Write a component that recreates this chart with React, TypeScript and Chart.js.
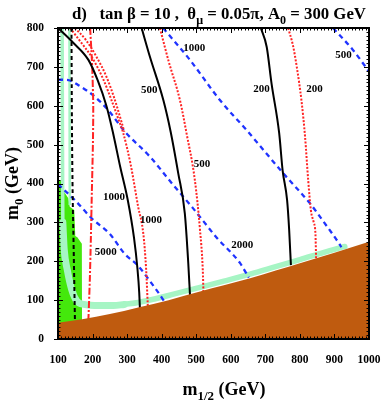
import React, { useEffect, useRef } from 'react';
import { Chart, registerables } from 'chart.js';

Chart.register(...registerables);

type P = [number, number];

// axis ticks
const xTickValues = [100, 200, 300, 400, 500, 600, 700, 800, 900, 1000];
const yTickValues = [0, 100, 200, 300, 400, 500, 600, 700, 800];

// excluded (stau LSP) region boundary
const stauBoundary: P[] = [[100, 42], [170, 51], [250, 64], [332, 81], [420, 100], [511, 122], [580, 138], [656, 156], [730, 176], [800, 195], [900, 222], [1000, 250]];
// b -> s gamma excluded region (bright green)
const bsgRegion: P[] = [[100, 408], [114, 408], [118, 378], [130, 362], [134, 340], [147, 332], [150, 265], [156, 262], [169, 245], [169.5, 40]];
// WMAP relic density strips (mint)
const relicStripA: P[] = [[112, 800], [113, 500], [114, 300]];
const relicStripB: P[] = [[114, 300], [118, 230], [127, 177], [140, 126], [154, 98], [175, 89], [220, 86], [260, 86], [292, 89]];
const relicStripC: P[] = [[292, 89], [332, 94], [420, 112], [511, 133], [580, 149], [656, 167], [730, 186], [800, 204], [870, 223], [930, 238]];
const relicStripD: P[] = [[133, 800], [133.5, 600], [134, 345]];

// black solid contours
const black1000: P[] = [[100, 800], [144, 762], [188, 718], [215, 665], [240, 600], [258, 535], [280, 443], [302, 357], [320, 260], [330, 180], [335, 120], [337, 79]];
const black500: P[] = [[342, 800], [366, 726], [405, 614], [426, 533], [448, 426], [467, 323], [477, 195], [482, 112]];
const black200: P[] = [[687, 800], [704, 751], [718, 657], [740, 530], [750, 434], [763, 357], [769, 280], [774, 190]];
// chargino limit (black dashed)
const charginoLimit: P[] = [[139, 800], [140, 600], [142, 400], [145, 250], [149, 50]];
// Higgs mass limit (red dash-dot)
const higgsLimit: P[] = [[193, 800], [199, 700], [202, 600], [201, 500], [198, 380], [195, 254], [192, 150], [188, 50]];
// red dotted contours
const red1000a: P[] = [[135, 800], [165, 765], [200, 722], [230, 670], [255, 614], [275, 565], [289, 529], [310, 450], [332, 340], [347, 270], [355, 180], [360, 83]];
const red1000b: P[] = [[149, 800], [180, 770], [212, 725], [240, 675], [262, 622], [280, 570], [292, 533]];
const red500: P[] = [[395, 800], [420, 715], [453, 614], [472, 529], [496, 409], [511, 280], [519, 177], [521, 118]];
const red200: P[] = [[766, 800], [780, 755], [791, 700], [805, 610], [815, 520], [824, 409], [832, 330], [840, 300], [845, 270], [847, 205]];
// blue dashed contours
const blue5000: P[] = [[100, 398], [149, 357], [198, 310], [250, 270], [294, 218], [330, 190], [371, 143], [405, 100], [410, 92]];
const blue2000: P[] = [[100, 667], [130, 666], [159, 653], [207, 623], [245, 589], [294, 533], [366, 469], [430, 400], [491, 336], [560, 260], [627, 195], [652, 158]];
const blue1000: P[] = [[404, 800], [480, 720], [569, 614], [646, 537], [752, 426], [829, 349], [870, 300], [916, 242], [920, 236]];
const blue500: P[] = [[896, 800], [954, 743], [1000, 688]];

// contour label texts and their anchor values
const labelTexts = ['1000', '500', '200', '1000', '500', '200', '1000', '500', '2000', '5000'];
const labelAnchorX = [262, 364, 689, 369, 517, 842, 494, 926, 633, 238];
const labelAnchorY = [366, 640, 642, 306, 449, 642, 749, 730, 242, 224];

const SERIF = '"Liberation Serif", "Times New Roman", serif';

const pts = (a: P[]) => a.map(([x, y]) => ({ x, y }));

const lineDs = (data: P[], color: string, width: number, dash: number[], order: number, extra: any = {}) => ({
  type: 'line',
  data: pts(data),
  borderColor: color,
  borderWidth: width,
  borderDash: dash,
  borderCapStyle: 'butt',
  pointRadius: 0,
  fill: false,
  cubicInterpolationMode: 'monotone',
  order,
  ...extra,
});

type Part = { t: string; sub?: boolean };

function drawRich(ctx: CanvasRenderingContext2D, parts: Part[], x: number, y: number, size: number, align: 'left' | 'center') {
  const font = (s: number) => `bold ${s}px ${SERIF}`;
  let total = 0;
  const widths: number[] = [];
  for (const p of parts) {
    ctx.font = font(p.sub ? size * 0.72 : size);
    const w = ctx.measureText(p.t).width;
    widths.push(w);
    total += w;
  }
  let cx = align === 'center' ? x - total / 2 : x;
  ctx.textAlign = 'left';
  ctx.textBaseline = 'alphabetic';
  parts.forEach((p, i) => {
    ctx.font = font(p.sub ? size * 0.72 : size);
    ctx.fillText(p.t, cx, p.sub ? y + size * 0.3 : y);
    cx += widths[i];
  });
}

const decor = {
  id: 'decor',
  afterDatasetsDraw(chart: any) {
    const { ctx, chartArea: a } = chart;
    const xs = chart.scales.x;
    const ys = chart.scales.y;
    ctx.save();
    // contour labels
    ctx.fillStyle = '#000';
    ctx.font = `bold 11px ${SERIF}`;
    ctx.textAlign = 'center';
    ctx.textBaseline = 'middle';
    labelTexts.forEach((t, i) => {
      ctx.fillText(t, xs.getPixelForValue(labelAnchorX[i]), ys.getPixelForValue(labelAnchorY[i]));
    });
    // ticks
    ctx.strokeStyle = '#000';
    ctx.lineWidth = 1;
    ctx.beginPath();
    for (let v = xs.min; v <= xs.max; v += 10) {
      const px = Math.round(xs.getPixelForValue(v)) + 0.5;
      const len = v % 100 === 0 ? 5 : 2.5;
      ctx.moveTo(px, a.bottom);
      ctx.lineTo(px, a.bottom - len);
      ctx.moveTo(px, a.top);
      ctx.lineTo(px, a.top + len);
    }
    for (let v = ys.min; v <= ys.max; v += 10) {
      const py = Math.round(ys.getPixelForValue(v)) + 0.5;
      const major = v % 100 === 0;
      const len = major ? 5 : 2.5;
      ctx.moveTo(a.left - (major ? 4 : 0), py);
      ctx.lineTo(a.left + len, py);
      ctx.moveTo(a.right, py);
      ctx.lineTo(a.right - len, py);
    }
    ctx.stroke();
    // frame
    ctx.lineWidth = 2;
    ctx.strokeRect(a.left, a.top, a.right - a.left, a.bottom - a.top);
    // title
    ctx.fillStyle = '#000';
    drawRich(ctx, [
      { t: 'd)   tan β = 10 ,  θ' },
      { t: 'μ', sub: true },
      { t: ' = 0.05π, A' },
      { t: '0', sub: true },
      { t: ' = 300 GeV' },
    ], 72, 19, 16.8, 'left');
    // x title
    drawRich(ctx, [{ t: 'm' }, { t: '1/2', sub: true }, { t: ' (GeV)' }], 224, 395, 18, 'center');
    // y title
    ctx.save();
    ctx.translate(18, (a.top + a.bottom) / 2);
    ctx.rotate(-Math.PI / 2);
    drawRich(ctx, [{ t: 'm' }, { t: '0', sub: true }, { t: ' (GeV)' }], 0, 0, 18, 'center');
    ctx.restore();
    ctx.restore();
  },
};

export default function App() {
  const ref = useRef<HTMLCanvasElement>(null);
  useEffect(() => {
    if (!ref.current) return;
    const BROWN = '#bf5b0f';
    const GREEN = '#44e80c';
    const MINT = '#a6f5c4';
    const RED = '#ff2424';
    const BLUE = '#1f33ff';
    const datasets: any[] = [
      lineDs(stauBoundary, BROWN, 0, [], 0, { fill: 'start', backgroundColor: BROWN }),
      lineDs(black1000, '#000', 2, [], 2),
      lineDs(black500, '#000', 2, [], 2),
      lineDs(black200, '#000', 2, [], 2),
      lineDs(charginoLimit, '#000', 2, [4, 3], 2),
      lineDs(higgsLimit, RED, 2, [7, 2, 2, 2], 3, { cubicInterpolationMode: 'default', tension: 0.2 }),
      lineDs(red1000a, RED, 2, [2, 1.6], 3),
      lineDs(red1000b, RED, 2, [2, 1.6], 3),
      lineDs(red500, RED, 2, [2, 1.6], 3),
      lineDs(red200, RED, 2, [2, 1.6], 3),
      lineDs(blue5000, BLUE, 2.3, [5, 4], 4),
      lineDs(blue2000, BLUE, 2.3, [5, 4], 4),
      lineDs(blue1000, BLUE, 2.3, [5, 4], 4),
      lineDs(blue500, BLUE, 2.3, [5, 4], 4),
      lineDs(relicStripA, MINT, 3.5, [], 8),
      lineDs(relicStripD, MINT, 2.5, [], 8),
      lineDs(relicStripB, MINT, 7, [], 8, { borderCapStyle: 'round', borderJoinStyle: 'round' }),
      lineDs(relicStripC, MINT, 5.5, [], 8, { borderCapStyle: 'round', borderJoinStyle: 'round' }),
      lineDs(bsgRegion, GREEN, 0, [], 9, { fill: 'start', backgroundColor: GREEN, cubicInterpolationMode: 'default', tension: 0 }),
    ];
    const tickFont = { family: SERIF, weight: 'bold' as const, size: 11.5 };
    const chart = new Chart(ref.current, {
      type: 'line',
      data: { datasets },
      options: {
        responsive: false,
        devicePixelRatio: 1,
        animation: false,
        layout: { padding: { top: 28, right: 13, left: 0, bottom: 0 } },
        plugins: { legend: { display: false }, tooltip: { enabled: false }, title: { display: false } },
        scales: {
          x: {
            type: 'linear',
            min: 100,
            max: 1000,
            grid: { display: false },
            border: { display: false },
            afterBuildTicks: (s: any) => { s.ticks = xTickValues.map((v) => ({ value: v })); },
            afterFit: (s: any) => { s.height = 64; s.paddingLeft = 0; s.paddingRight = 0; },
            ticks: { font: tickFont, color: '#000', padding: 6, maxRotation: 0, autoSkip: false, callback: (v: any) => String(v) },
          },
          y: {
            type: 'linear',
            min: 0,
            max: 800,
            grid: { display: false },
            border: { display: false },
            afterBuildTicks: (s: any) => { s.ticks = yTickValues.map((v) => ({ value: v })); },
            afterFit: (s: any) => { s.width = 58; s.paddingTop = 0; s.paddingBottom = 0; },
            ticks: { font: tickFont, color: '#000', padding: 6, autoSkip: false, callback: (v: any) => String(v) },
          },
        },
      } as any,
      plugins: [decor],
    });
    return () => chart.destroy();
  }, []);
  return (
    <div style={{ position: 'fixed', left: 0, top: 0, width: 382, height: 403, background: '#fff' }}>
      <canvas ref={ref} width={382} height={403} style={{ width: 382, height: 403, display: 'block' }} />
    </div>
  );
}
